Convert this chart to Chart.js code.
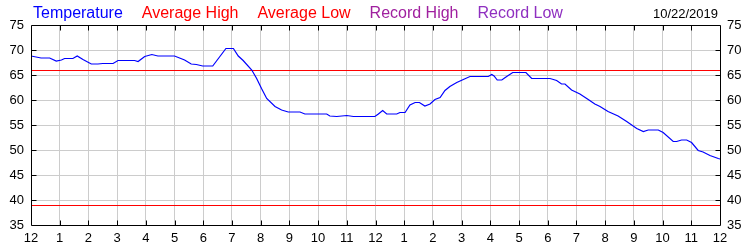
<!DOCTYPE html>
<html>
<head>
<meta charset="utf-8">
<script src="https://cdn.jsdelivr.net/npm/chart.js@4/dist/chart.umd.min.js"></script>
<style>
  body { margin: 0; background: #fff; }
  canvas { display: block; }
</style>
</head>
<body>
<canvas id="temp-chart" width="750" height="250"></canvas>
<script>
// hours since midnight and temperature readings (deg F)
const hours = [
    0.00, 0.35, 0.65, 0.88, 1.06, 1.17, 1.46, 1.61, 1.81, 2.10, 2.33, 2.50, 2.86, 3.03, 3.61, 3.73,
    3.96, 4.21, 4.42, 5.00, 5.35, 5.58, 5.76, 5.98, 6.33, 6.79, 7.05, 7.22, 7.39, 7.69, 7.86, 8.03,
    8.21, 8.50, 8.73, 8.96, 9.37, 9.54, 10.30, 10.41, 10.65, 11.00, 11.23, 11.98, 12.10, 12.25, 12.39,
    12.74, 12.85, 13.03, 13.20, 13.38, 13.53, 13.72, 13.90, 14.07, 14.25, 14.42, 14.59, 14.83, 15.06,
    15.29, 15.93, 16.05, 16.13, 16.24, 16.40, 16.57, 16.78, 17.24, 17.44, 18.08, 18.31, 18.48, 18.60,
    18.83, 19.12, 19.41, 19.64, 19.82, 20.10, 20.45, 20.75, 21.10, 21.33, 21.50, 21.85, 22.02, 22.37,
    22.49, 22.66, 22.84, 23.01, 23.24, 23.41, 23.65, 23.94, 24.00
];
const temperature = [
    68.8, 68.4, 68.4, 67.8, 68.0, 68.3, 68.3, 68.8, 68.1, 67.2, 67.2, 67.3, 67.3, 67.9, 67.9, 67.7,
    68.7, 69.1, 68.8, 68.8, 68.0, 67.2, 67.1, 66.8, 66.8, 70.3, 70.3, 68.8, 67.9, 66.0, 64.3, 62.3,
    60.3, 58.7, 58.0, 57.6, 57.6, 57.2, 57.2, 56.8, 56.7, 56.9, 56.7, 56.7, 57.2, 57.9, 57.2,
    57.2, 57.5, 57.5, 59.0, 59.5, 59.5, 58.8, 59.2, 60.1, 60.5, 61.9, 62.7, 63.5, 64.1,
    64.7, 64.7, 65.1, 64.8, 64.0, 64.0, 64.7, 65.5, 65.5, 64.3, 64.3, 63.9, 63.2, 63.2,
    62.0, 61.2, 60.1, 59.2, 58.7, 57.7, 56.8, 55.7, 54.3, 53.7, 54.0, 54.0, 53.5, 51.7,
    51.7, 52.0, 52.0, 51.5, 49.9, 49.6, 48.9, 48.3, 48.2
];
const averageHigh = 65.9;
const averageLow = 38.9;

const hourLabels = ['12', '1', '2', '3', '4', '5', '6', '7', '8', '9', '10', '11',
                    '12', '1', '2', '3', '4', '5', '6', '7', '8', '9', '10', '11', '12'];
const legendLabels = ['Temperature', 'Average High', 'Average Low', 'Record High', 'Record Low'];
const legendColors = ['#0000ff', '#ff0000', '#ff0000', '#a0209f', '#8f2fc0'];
const dateLabel = '10/22/2019';

const FONT = '"Liberation Sans", Arial, sans-serif';

// top legend + date text
const headerText = {
    id: 'headerText',
    afterDraw(chart) {
        const ctx = chart.ctx;
        ctx.save();
        ctx.textBaseline = 'alphabetic';
        ctx.font = '16px ' + FONT;
        let x = 33;
        legendLabels.forEach((label, i) => {
            ctx.fillStyle = legendColors[i];
            ctx.textAlign = 'left';
            ctx.fillText(label, x, 18);
            x += ctx.measureText(label).width + 19;
        });
        ctx.font = '13px ' + FONT;
        ctx.fillStyle = '#000';
        ctx.textAlign = 'right';
        ctx.fillText(dateLabel, 718, 18);
        ctx.restore();
    }
};

// black frame with short inward tick marks on all four sides
const frame = {
    id: 'frame',
    afterDraw(chart) {
        const {ctx, chartArea: a, scales} = chart;
        const l = Math.round(a.left) + 0.5, r = Math.round(a.right) + 0.5;
        const t = Math.round(a.top) + 0.5, b = Math.round(a.bottom) + 0.5;
        ctx.save();
        ctx.strokeStyle = '#000';
        ctx.lineWidth = 1;
        ctx.beginPath();
        ctx.rect(l, t, r - l, b - t);
        for (let h = 1; h < 24; h++) {
            const px = Math.round(scales.x.getPixelForValue(h)) + 0.5;
            ctx.moveTo(px, t); ctx.lineTo(px, t + 5);
            ctx.moveTo(px, b); ctx.lineTo(px, b - 5);
        }
        for (let v = 40; v < 75; v += 5) {
            const py = Math.round(scales.y.getPixelForValue(v)) + 0.5;
            ctx.moveTo(l, py); ctx.lineTo(l + 5, py);
            ctx.moveTo(r, py); ctx.lineTo(r - 5, py);
        }
        ctx.stroke();
        ctx.restore();
    }
};

const tempPoints = hours.map((h, i) => ({x: h, y: temperature[i]}));

new Chart(document.getElementById('temp-chart'), {
    type: 'line',
    data: {
        datasets: [
            {
                label: 'Temperature',
                data: tempPoints,
                borderColor: '#0000ff',
                borderWidth: 1.2,
                pointRadius: 0,
                tension: 0
            },
            {
                label: 'Average High',
                data: [{x: 0, y: averageHigh}, {x: 24, y: averageHigh}],
                borderColor: '#ff0000',
                borderWidth: 1,
                pointRadius: 0
            },
            {
                label: 'Average Low',
                data: [{x: 0, y: averageLow}, {x: 24, y: averageLow}],
                borderColor: '#ff0000',
                borderWidth: 1,
                pointRadius: 0
            }
        ]
    },
    options: {
        responsive: false,
        animation: false,
        devicePixelRatio: 1,
        layout: {padding: {top: 25}},
        plugins: {
            legend: {display: false},
            tooltip: {enabled: false}
        },
        scales: {
            x: {
                type: 'linear',
                min: 0,
                max: 24,
                afterFit: s => { s.height = 25; },
                ticks: {
                    stepSize: 1,
                    autoSkip: false,
                    maxRotation: 0,
                    padding: 6,
                    color: '#000',
                    font: {family: FONT, size: 13},
                    callback: v => hourLabels[v]
                },
                grid: {color: '#cccccc', drawTicks: false},
                border: {display: false}
            },
            y: {
                position: 'left',
                min: 35,
                max: 75,
                afterFit: s => { s.width = 31; },
                ticks: {
                    stepSize: 5,
                    padding: 7,
                    color: '#000',
                    font: {family: FONT, size: 13}
                },
                grid: {color: '#cccccc', drawTicks: false},
                border: {display: false}
            },
            y2: {
                position: 'right',
                min: 35,
                max: 75,
                afterFit: s => { s.width = 30; },
                ticks: {
                    stepSize: 5,
                    padding: 7,
                    color: '#000',
                    font: {family: FONT, size: 13}
                },
                grid: {display: false, drawTicks: false},
                border: {display: false}
            }
        }
    },
    plugins: [headerText, frame]
});
</script>
</body>
</html>
